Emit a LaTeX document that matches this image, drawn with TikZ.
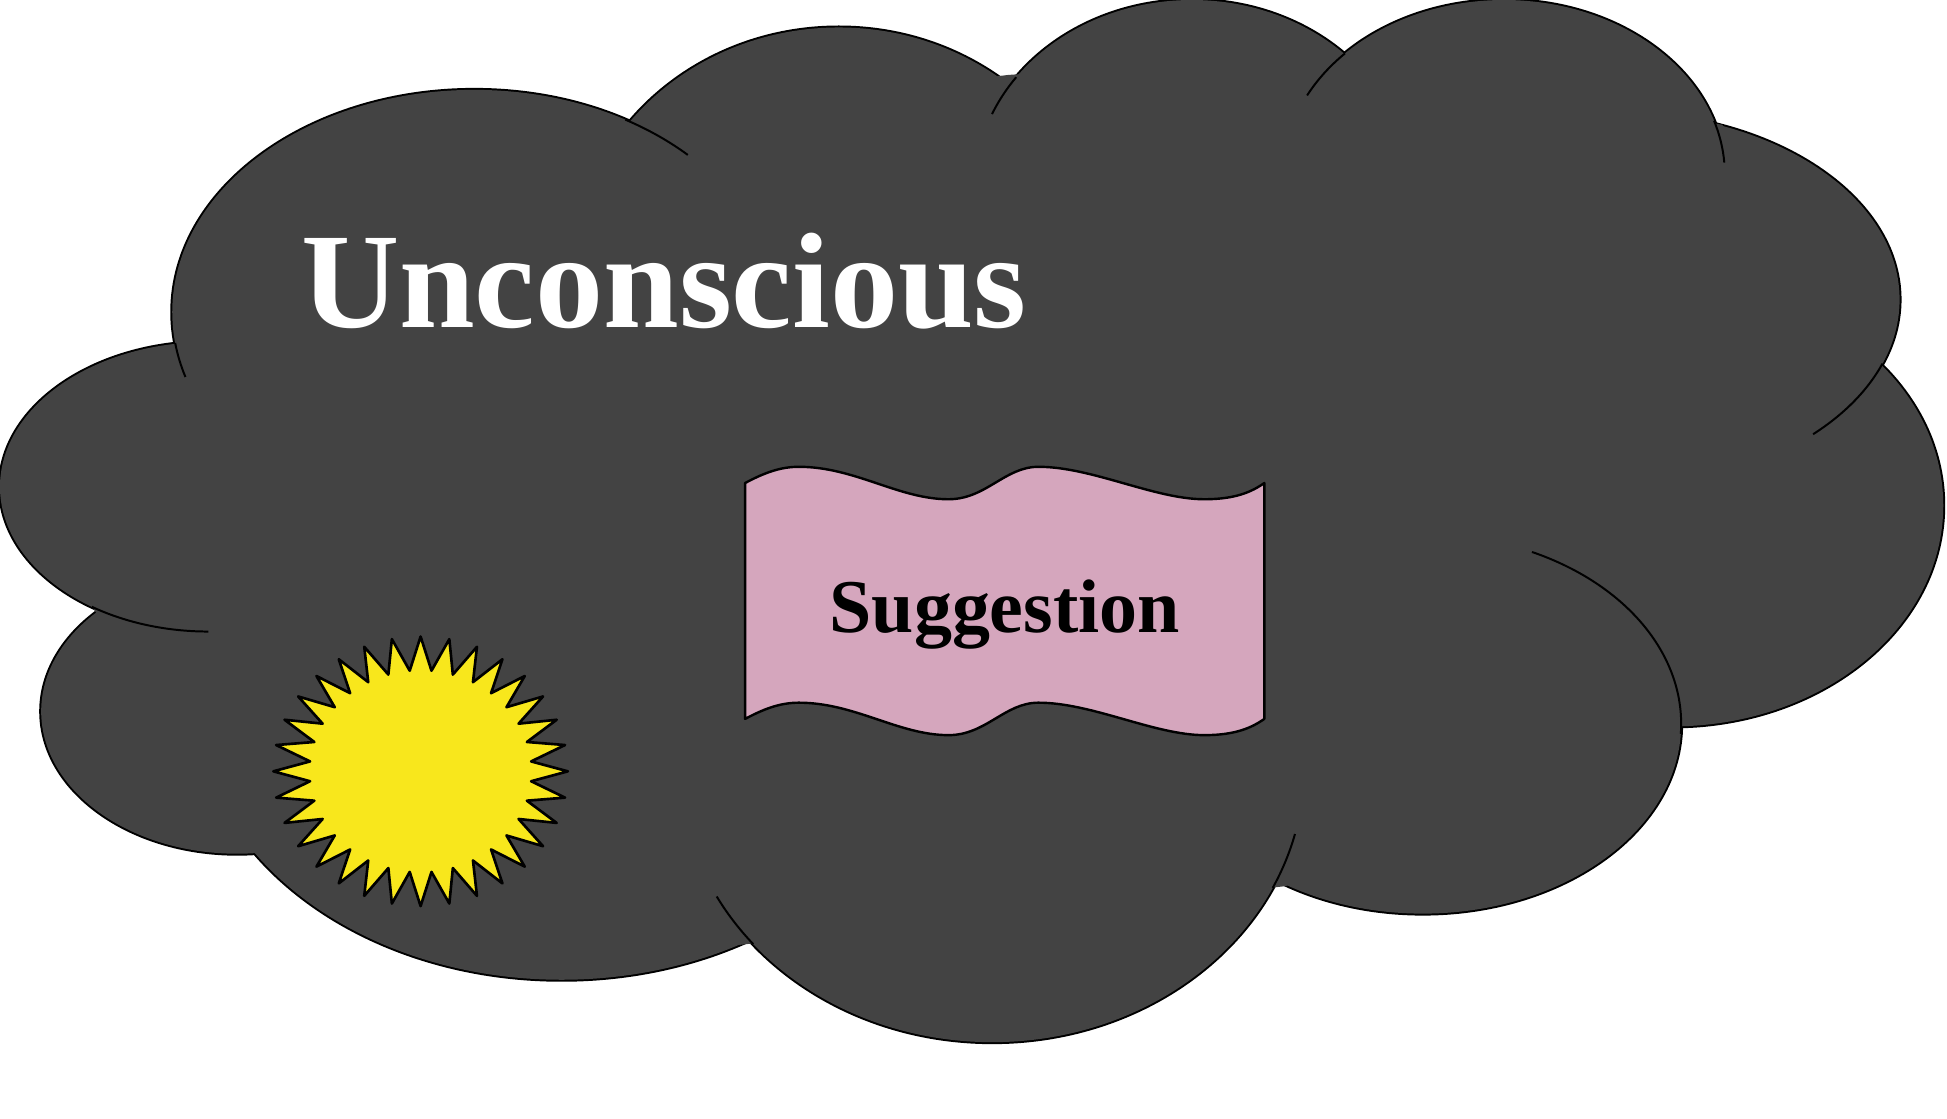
\documentclass[tikz,border=0pt]{standalone}
\usepackage{fontspec}
\setmainfont{Liberation Serif}
\definecolor{cloudgray}{HTML}{434343}
\definecolor{flagpink}{HTML}{D5A6BD}
\definecolor{sunyellow}{HTML}{F8E71C}

\begin{document}
\begin{tikzpicture}[x=0.01cm, y=-0.01cm, line join=round,
        rim/.style={draw=black, line width=0.9pt},
        seam/.style={draw=black, line width=0.45pt},
        label/.style={anchor=base, inner sep=0pt}]
        \useasboundingbox (0,0) rectangle (1560,896);

        % cloud: outer rim, fill, then the inner seams
        \foreach \cx/\cy/\rx/\ry in {380/250/242/178, 672/220/213/198, 955/150/174/150, 1205/140/177/140,
                1295/240/227/150, 1340/405/217/177, 1140/580/207/152, 795/615/250/220,
                450/560/294/225, 190/570/157/114, 167/390/167/116}
            \path[rim] (\cx,\cy) ellipse [x radius=\rx, y radius=\ry];
        \fill[cloudgray] (505,97) -- (808,60) -- (1075,43) -- (1380,100) -- (1507,295) -- (1347,580)
            -- (1030,710) -- (593,757) -- (208,679) -- (75,488) -- (140,277) -- cycle;
        \foreach \cx/\cy/\rx/\ry in {380/250/242/178, 672/220/213/198, 955/150/174/150, 1205/140/177/140,
                1295/240/227/150, 1340/405/217/177, 1140/580/207/152, 795/615/250/220,
                450/560/294/225, 190/570/157/114, 167/390/167/116}
            \fill[cloudgray] (\cx,\cy) ellipse [x radius=\rx, y radius=\ry];
        \foreach \cx/\cy/\rx/\ry/\a/\b in {380/250/242/178/-60/-45, 380/250/242/178/172/163,
                955/150/174/150/-157/-144, 1205/140/177/140/-153/-136, 1205/140/177/140/-18/-4,
                1295/240/227/150/20/46, 1140/580/207/152/-65/3, 795/615/250/220/14/26,
                795/615/250/220/140/152, 167/390/167/116/90/124}
            \path[seam] ([shift={(\cx,\cy)}]\a:{\rx} and {\ry}) arc [start angle=\a, end angle=\b, x radius=\rx, y radius=\ry];

        \node[label, text=white, font=\fontsize{31}{36}\selectfont\bfseries] (title) at (532,262) {Unconscious};

        % flag
        \draw[fill=flagpink, line width=0.55pt] (597,387) .. controls (612,379) and (625,374) .. (640,374)
            .. controls (685,374) and (720,400) .. (760,400) .. controls (790,400) and (805,374) .. (832,374)
            .. controls (875,374) and (925,400) .. (965,400) .. controls (990,400) and (1003,394) .. (1013,387)
            -- (1013,576) .. controls (1003,583) and (990,589) .. (965,589)
            .. controls (925,589) and (875,563) .. (832,563) .. controls (805,563) and (790,589) .. (760,589)
            .. controls (720,589) and (685,563) .. (640,563) .. controls (625,563) and (612,568) .. (597,576) -- cycle;
        \node[label, font=\fontsize{17.3}{20}\selectfont\bfseries] (sugg) at (805,507) {Suggestion};

        % sun
        \begin{scope}[shift={(337,618)}]
            \draw[fill=sunyellow, line width=0.6pt] (90:118 and 108)
                \foreach \i in {0,...,31} { -- ({90+\i*11.25+5.625}:89 and 81) -- ({90+(\i+1)*11.25}:118 and 108) } -- cycle;
        \end{scope}
\end{tikzpicture}
\end{document}
